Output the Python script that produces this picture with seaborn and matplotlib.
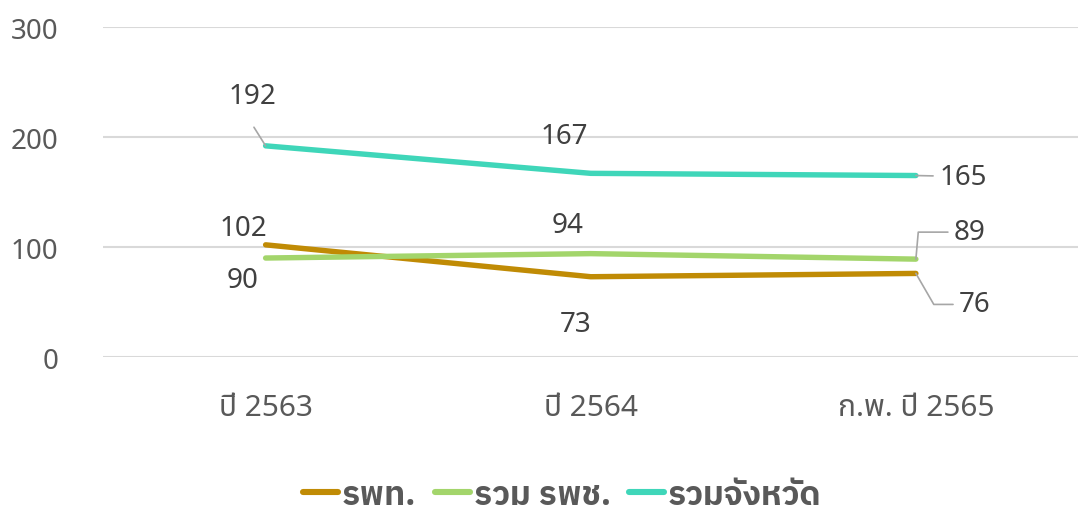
import matplotlib
matplotlib.use("Agg")
import matplotlib.pyplot as plt
import pandas as pd
import seaborn as sns

# data
periods = ["ปี 2563", "ปี 2564", "ก.พ. ปี 2565"]
series_names = ["รพท.", "รวม รพช.", "รวมจังหวัด"]
rpt = [102, 73, 76]
rpch = [90, 94, 89]
province = [192, 167, 165]

colors = ["#C08B05", "#A3D56B", "#3FD6B9"]


def main():
    sns.set_style("white")
    plt.rcParams["font.family"] = ["Noto Sans Thai", "Noto Sans", "DejaVu Sans"]

    df = pd.DataFrame({
        "period": periods * 3,
        "series": [series_names[0]] * 3 + [series_names[1]] * 3 + [series_names[2]] * 3,
        "value": rpt + rpch + province,
    })

    fig = plt.figure(figsize=(10.79, 5.10), dpi=100)
    ax = fig.add_axes([0.0955, 0.298, 0.904, 0.647])

    sns.lineplot(data=df, x="period", y="value", hue="series", palette=colors,
                 linewidth=3.9, sort=False, ax=ax, legend=True)
    for ln in ax.lines:
        ln.set_solid_capstyle("round")

    ax.set_ylim(0, 300)
    ax.set_xlim(-0.5, 2.5)
    ax.set_yticks([0, 100, 200, 300])
    ax.grid(axis="y", color="#D9D9D9", linewidth=1.5)
    ax.set_axisbelow(True)
    for s in ax.spines.values():
        s.set_visible(False)
    ax.tick_params(axis="y", length=0, pad=32, labelsize=20, labelcolor="#595959")
    ax.tick_params(axis="x", length=0, pad=26, labelsize=21.5, labelcolor="#595959")
    ax.set_xlabel("")
    ax.set_ylabel("")

    # data labels: offsets in pixels from the point, and the leader line style if any
    offsets = {
        0: [(-22, 17, None), (-15, -47, None), (59, -31, "angle,angleA=0,angleB=120")],
        1: [(-23, -22, None), (-23, 29, None), (54, 27, "angle,angleA=0,angleB=85")],
        2: [(-13, 50, "arc3"), (-26, 37, None), (47, -1, "arc3")],
    }
    values = [rpt, rpch, province]
    for si, vals in enumerate(values):
        for i, v in enumerate(vals):
            dx, dy, conn = offsets[si][i]
            props = None
            if conn:
                props = dict(arrowstyle="-", color="#A6A6A6", lw=1.2,
                             connectionstyle=conn, shrinkA=2, shrinkB=0)
                if si == 2 and i == 0:
                    props["relpos"] = (0.3, 0.0)
                    props["shrinkA"] = 12
            ax.annotate(str(v), xy=(i, v), xytext=(dx, dy), textcoords="offset pixels",
                        ha="center", va="center", fontsize=20, color="#404040",
                        arrowprops=props)

    handles, labels = ax.get_legend_handles_labels()
    ax.legend_.remove()
    leg = fig.legend(handles, labels, loc="lower center", bbox_to_anchor=(0.521, -0.062),
                     ncol=3, frameon=False,
                     prop={"family": ["IBM Plex Sans Thai", "Noto Sans Thai"], "size": 24, "weight": "bold"},
                     handlelength=1.05, handletextpad=0.12, columnspacing=0.55,
                     labelcolor="#595959")
    for h in leg.get_lines():
        h.set_linewidth(4.4)
        h.set_solid_capstyle("round")

    fig.savefig("out.png", dpi=100)


if __name__ == "__main__":
    main()
